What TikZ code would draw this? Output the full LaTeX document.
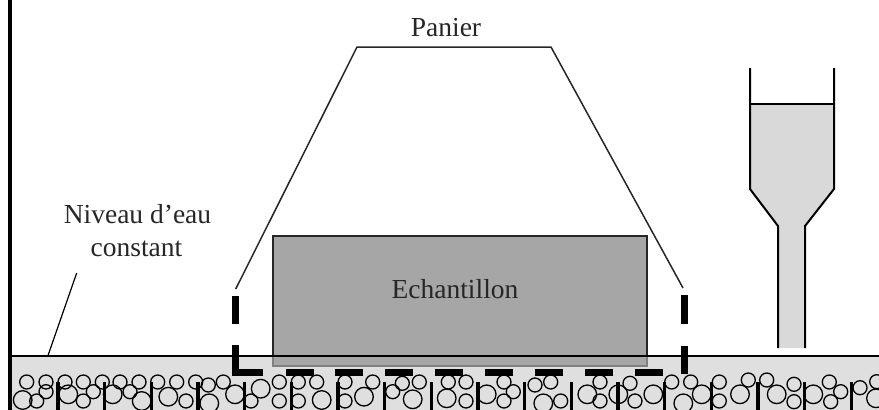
\documentclass[tikz,border=0pt]{standalone}
\usepackage{fontspec}
\setmainfont{Liberation Serif}
\definecolor{water}{HTML}{DFDFDF}
\definecolor{funnelwater}{HTML}{D9D9D9}
\definecolor{sample}{HTML}{A6A6A6}
\tikzset{
  px/.style={x=1pt,y=-1pt},
  label/.style={font=\fontsize{27.5}{33}\selectfont,inner sep=0pt,anchor=base,text=black!85},
  thinline/.style={draw=black,line width=1.2pt},
  panierline/.style={draw=black!85,line width=1.5pt},
  bead/.style={draw=black,line width=1.3pt},
  barre/.style={line width=3.4pt},
  grille/.style={line width=7pt},
  tube/.style={line width=2pt}
}
\begin{document}
\begin{tikzpicture}[px]
\useasboundingbox (0,0) rectangle (879,410);
\fill[water] (10,356) rectangle (879,410);
\begin{scope}
\clip (0,0) rectangle (879,410);
\foreach \x/\y/\r in {
26.7/382/7,46/382/7,65/382/7,83.3/382/7,102.3/382/7,120/382/7,139/382/7,157.7/382/7,176.7/382/7,195.7/382/7,208.3/385/7,223.3/382/7,279.3/382/7,298.3/382/7,
46/391.7/7,22.7/400/9.3,36.7/401/7,68.3/394.3/9.3,83.3/401/7,93.3/391.7/7,112.7/394.3/9.3,130/391.7/7,141.7/401/9.3,168.3/396.7/9.3,186/401/7,209.3/403.3/9.3,235/394.3/9.3,251/401/7,260.7/388.7/9.3,279.3/401/7,298.3/401/7,
316.7/382/7,321.7/400/9.3,
345/382/7,345/401/7,372.7/382/7,364/396.7/9.3,392.7/391.7/7,402.3/383.3/7,419.3/382/7,412.7/399.3/9.3,448.3/382/7,466/382/7,446.7/398.3/9.3,466/401/7,486.7/394.3/9.3,504/382/7,513.3/391.7/7,504/401/7,535/385/7,550.7/382/7,543.3/403.3/9.3,560.7/401/7,587.3/394.3/9.3,600/382/7,600/401/7,
630/383.3/7,618.3/394.3/9.3,635/401/7,653.3/394.3/9.3,671.7/382/7,690.7/382/7,683.3/403.3/9.3,701.7/394.3/9.3,719.3/382/7,719.3/401/7,740/394.3/9.3,748.3/380/7,766.7/380/7,776.7/394.3/9.3,794/384.3/7,794/401.7/7,813.3/394.3/9.3,829.3/382/7,840.7/391.7/7,830.7/401.7/7,860/387.7/7,876/398.3/9.3,876.7/381.7/7}
  \draw[bead] (\x,\y) circle (\r);
\foreach \x in {58,104.7,151.3,198,244.7,291.3,338,384.7,431.3,478,524.7,571.3,618,664.7,711.3,758,804.7,851.3}
  \draw[barre] (\x,382) -- (\x,410);
\end{scope}
% sample
\fill[sample] (273,236) rectangle (647,366);
\draw[line width=1.3pt,gray] (273,356) -- (273,366) -- (647,366) -- (647,356);
\draw[line width=1.7pt,black!85] (273,356) -- (273,236) -- (647,236) -- (647,356);
% water level
\draw[thinline] (10,356) -- (879,356);
% wall
\draw[line width=4.2pt] (10.3,0) -- (10.3,410);
% basket
\coordinate (bl) at (235.7,289);
\coordinate (tl) at (357,47);
\coordinate (tr) at (551,47);
\coordinate (br) at (683,288);
\draw[panierline] (bl) -- (tl) -- (tr) -- (br);
\draw[grille] (235.5,296) -- (235.5,324);
\draw[grille] (684.2,295) -- (684.2,324);
\draw[grille] (235.5,345) -- (235.5,372) -- (263,372);
\draw[grille] (684.2,345.7) -- (684.2,373.7);
\foreach \x in {286,335,385,435,485,535,585,635}
  \draw[grille] (\x,372) -- ++(28,0);
% funnel
\fill[funnelwater] (750,104) -- (834,104) -- (834,189) -- (805,226) -- (805,348) -- (778,348) -- (778,226) -- (750,189) -- cycle;
\draw[tube] (750,68) -- (750,189) -- (778,226) -- (778,348);
\draw[tube] (834,68) -- (834,189) -- (805,226) -- (805,348);
\draw[thinline] (750,104) -- (834,104);
% labels
\node[label] (panier) at (446,36) {Panier};
\node[label] (niveau) at (137.5,223) {Niveau d'eau};
\node[label] (constant) at (136.5,256) {constant};
\node[label] (ech) at (455,298) {Echantillon};
\coordinate (eau) at (48,355.5);
\coordinate (trait) at (76.7,273);
\draw[thinline] (trait) -- (eau);
\end{tikzpicture}
\end{document}
